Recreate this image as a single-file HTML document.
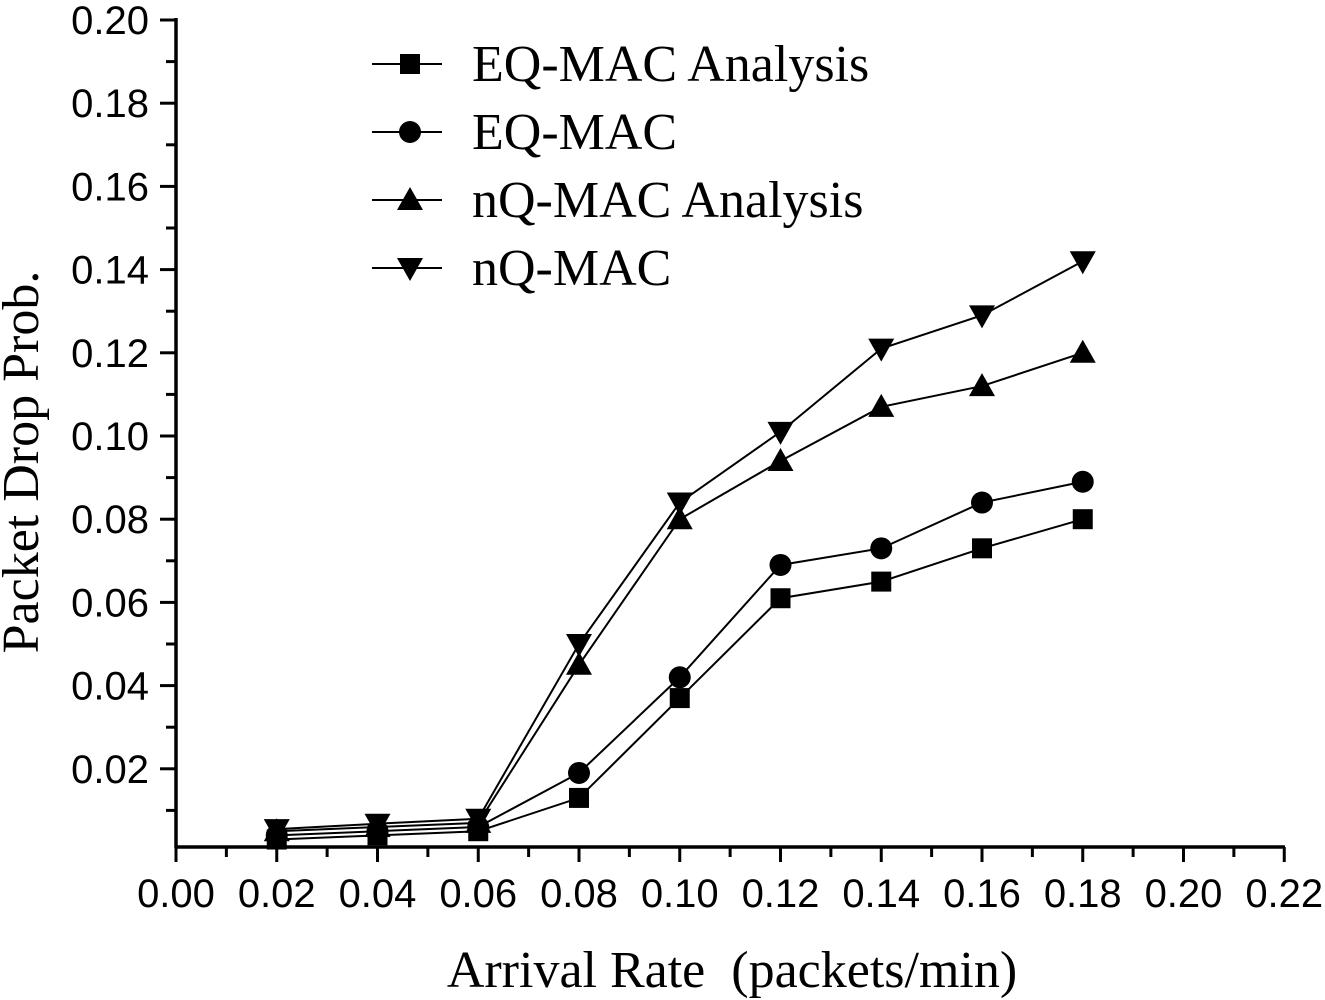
<!DOCTYPE html>
<html><head><meta charset="utf-8"><style>
html,body{margin:0;padding:0;background:#fff;}
svg{display:block;}
.tk{font-family:"Liberation Sans",sans-serif;font-size:40px;fill:#000;}
.sf{font-family:"Liberation Serif",serif;font-size:52px;fill:#000;}
</style></head><body>
<svg id="chart" width="1325" height="1000" viewBox="0 0 1325 1000"></svg>
<script>
const xTicks=[0,0.02,0.04,0.06,0.08,0.10,0.12,0.14,0.16,0.18,0.20,0.22];
const yTicks=[0.02,0.04,0.06,0.08,0.10,0.12,0.14,0.16,0.18,0.20];
const rates=[0.02,0.04,0.06,0.08,0.10,0.12,0.14,0.16,0.18];
const eqAnalysis=[0.003,0.004,0.005,0.013,0.037,0.061,0.065,0.073,0.080];
const eqSim=[0.004,0.005,0.006,0.019,0.042,0.069,0.073,0.084,0.089];
const nqAnalysis=[0.005,0.006,0.007,0.045,0.080,0.094,0.107,0.112,0.120];
const nqSim=[0.0055,0.0068,0.008,0.050,0.084,0.101,0.121,0.129,0.142];
const seriesNames=["EQ-MAC Analysis","EQ-MAC","nQ-MAC Analysis","nQ-MAC"];
const NS="http://www.w3.org/2000/svg";
const svg=document.getElementById('chart');
const X=v=>176+v/0.02*100.75;
const Y=v=>852-v/0.02*83.2;
function mk(t,a,p){const e=document.createElementNS(NS,t);for(const k in a)e.setAttribute(k,a[k]);(p||svg).appendChild(e);return e;}
let e=mk('line',{x1:176,y1:847,x2:1285,y2:847,stroke:'#000','stroke-width':3.5});


e=mk('line',{x1:176,y1:18,x2:176,y2:848,stroke:'#000','stroke-width':3.5});


for(let i=0;i<=22;i++){const x=X(i*0.01);mk('line',{x1:x,y1:847,x2:x,y2:i%2?857:862,stroke:'#000','stroke-width':3});}
xTicks.forEach(v=>{const t=mk('text',{x:X(v),y:907,'text-anchor':'middle',class:'tk'});t.textContent=v.toFixed(2);

});
for(let i=1;i<=20;i++){const y=Y(i*0.01);mk('line',{x1:176,y1:y,x2:i%2?166:160,y2:y,stroke:'#000','stroke-width':3});}
yTicks.forEach(v=>{const t=mk('text',{x:149,y:Y(v)+14,'text-anchor':'end',class:'tk'});t.textContent=v.toFixed(2);

});
e=mk('text',{x:732,y:987,'text-anchor':'middle',class:'sf'});e.textContent='Arrival Rate\u00a0\u00a0(packets/min)';


e=mk('text',{x:0,y:0,'text-anchor':'middle',class:'sf',transform:'translate(38,462) rotate(-90)'});e.textContent='Packet Drop Prob.';


function marker(kind,x,y,g){
 if(kind==0)mk('rect',{x:x-10,y:y-10,width:20,height:20,fill:'#000'},g);
 else if(kind==1)mk('circle',{cx:x,cy:y,r:11,fill:'#000'},g);
 else if(kind==2)mk('polygon',{points:`${x},${y-13} ${x-13},${y+10} ${x+13},${y+10}`,fill:'#000'},g);
 else mk('polygon',{points:`${x},${y+13} ${x-13},${y-10} ${x+13},${y-10}`,fill:'#000'},g);
}
const all=[eqAnalysis,eqSim,nqAnalysis,nqSim];
all.forEach((s,k)=>{
 const g=mk('g',{});
 
 
 mk('polyline',{points:s.map((v,i)=>X(rates[i])+','+Y(v)).join(' '),fill:'none',stroke:'#000','stroke-width':2},g);
 s.forEach((v,i)=>marker(k,X(rates[i]),Y(v),g));
});
seriesNames.forEach((n,k)=>{
 const y=64+k*68;
 const g=mk('g',{});
 
 
 mk('line',{x1:372,y1:y,x2:442,y2:y,stroke:'#000','stroke-width':2},g);
 marker(k,410,y,g);
 const t=mk('text',{x:472,y:y+17,class:'sf'},g);t.textContent=n;
});
</script>
</body></html>
